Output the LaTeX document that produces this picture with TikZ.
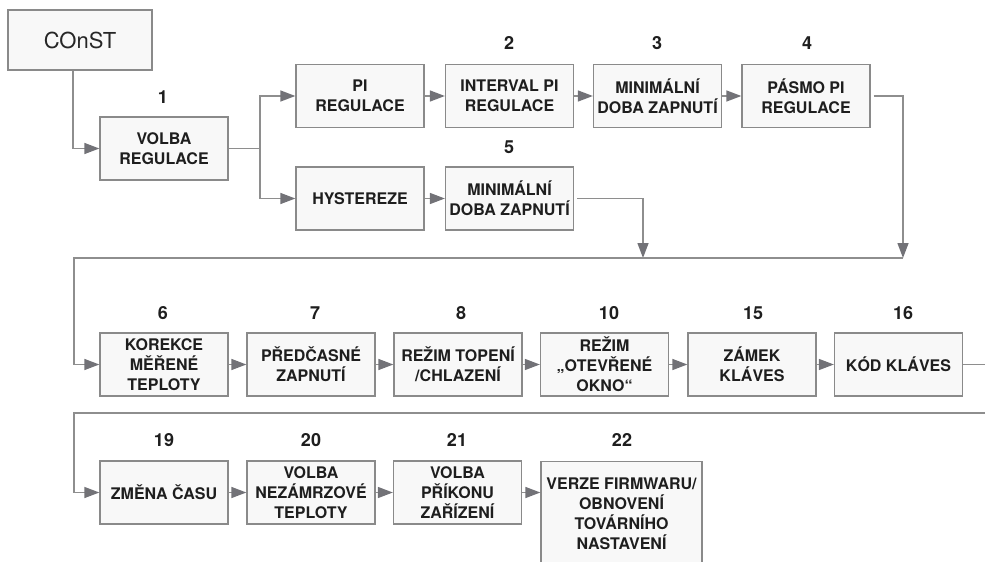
\documentclass[tikz,border=0pt]{standalone}
\usepackage{fontspec}
\setmainfont{TeX Gyre Heros}
\usetikzlibrary{arrows.meta}
\definecolor{linegray}{HTML}{8E8E8E}
\definecolor{headgray}{HTML}{727277}
\definecolor{boxborder}{HTML}{8A8A8A}
\definecolor{boxfill}{HTML}{F8F8F8}
\definecolor{txt}{HTML}{1E1E1E}
\tikzset{
  box/.style={draw=boxborder, fill=boxfill, line width=1.3pt, minimum width=128pt, minimum height=63pt,
    inner sep=2pt, align=center, text=txt, font=\fontsize{16}{20}\selectfont\bfseries},
  num/.style={text=txt, font=\fontsize{18}{20}\selectfont\bfseries, inner sep=0pt},
  conn/.style={draw=linegray, line width=1.4pt},
  arr/.style={conn, -{Triangle[length=15pt,width=11pt,fill=headgray,color=headgray]}},
}
\begin{document}
\begin{tikzpicture}[x=1pt,y=-1pt]
\useasboundingbox (0,0) rectangle (985,562);
\clip (0,0) rectangle (985,562);
% top part
\node[box, minimum width=144pt, minimum height=60pt, font=\fontsize{22}{24}\selectfont, text=black!85] (const) at (80,40) {COnST};
\node[box] (b1) at (164,148.5) {VOLBA\\REGULACE};
\node[num] (n1) at (163,97) {1};
\node[box] (pi) at (360,96) {PI\\REGULACE};
\node[box] (b2) at (509.5,96) {INTERVAL PI\\REGULACE};
\node[box] (b3) at (657.5,96) {MINIMÁLNÍ\\DOBA ZAPNUTÍ};
\node[box] (b4) at (806,96) {PÁSMO PI\\REGULACE};
\node[num] (n2) at (509,43) {2};
\node[num] (n3) at (657,43) {3};
\node[num] (n4) at (807,43) {4};
\node[box] (hy) at (360,198.5) {HYSTEREZE};
\node[box] (b5) at (509.5,198.5) {MINIMÁLNÍ\\DOBA ZAPNUTÍ};
\node[num] (n5) at (509,147) {5};
% row 2
\node[box] (b6) at (164,364.5) {KOREKCE\\MĚŘENÉ\\TEPLOTY};
\node[box] (b7) at (311,364.5) {PŘEDČASNÉ\\ZAPNUTÍ};
\node[box] (b8) at (458,364.5) {REŽIM TOPENÍ\\/CHLAZENÍ};
\node[box] (b10) at (604.5,364.5) {REŽIM\\„OTEVŘENÉ\\OKNO“};
\node[box] (b15) at (752,364.5) {ZÁMEK\\KLÁVES};
\node[box] (b16) at (898.5,364.5) {KÓD KLÁVES};
\node[num] (n6) at (163,313) {6};
\node[num] (n7) at (315,313) {7};
\node[num] (n8) at (461,313) {8};
\node[num] (n10) at (609,313) {10};
\node[num] (n15) at (753,313) {15};
\node[num] (n16) at (903,313) {16};
% row 3
\node[box] (b19) at (164,492.5) {ZMĚNA ČASU};
\node[box] (b20) at (311,492.5) {VOLBA\\NEZÁMRZOVÉ\\TEPLOTY};
\node[box] (b21) at (457.5,492.5) {VOLBA\\PŘÍKONU\\ZAŘÍZENÍ};
\node[box, minimum width=161pt, minimum height=104pt] (b22) at (621.5,513.5) {VERZE FIRMWARU/\\OBNOVENÍ\\TOVÁRNÍHO\\NASTAVENÍ};
\node[num] (n19) at (164,440) {19};
\node[num] (n20) at (311,440) {20};
\node[num] (n21) at (457,440) {21};
\node[num] (n22) at (622,440) {22};
% coordinates
\coordinate (split) at (260,148.5);
\coordinate (j1) at (903,258);
\coordinate (j2) at (643,258);
\coordinate (c1) at (74,258);
\coordinate (e1) at (985,364.5);
\coordinate (e2) at (985,413);
\coordinate (c2) at (74,413);
% connectors
\draw[arr] ([xshift=-7pt]const.south) |- (b1.west);
\draw[conn] (b1.east) -- (split);
\draw[arr] (split) |- (pi.west);
\draw[arr] (split) |- (hy.west);
\draw[arr] (pi) -- (b2);
\draw[arr] (b2) -- (b3);
\draw[arr] (b3) -- (b4);
\draw[arr] (hy) -- (b5);
\draw[arr] ([xshift=3pt]b4.east) -| (j1);
\draw[arr] ([xshift=3pt]b5.east) -| (j2);
\draw[arr] (j1) -- (c1) |- (b6.west);
\draw[arr] (b6) -- (b7);
\draw[arr] (b7) -- (b8);
\draw[arr] (b8) -- (b10);
\draw[arr] (b10) -- (b15);
\draw[arr] (b15) -- (b16);
\draw[conn] (b16.east) -- (e1);
\draw[arr] (e2) -- (c2) |- (b19.west);
\draw[arr] (b19) -- (b20);
\draw[arr] (b20) -- (b21);
\draw[arr] (b21.east) -- (b21.east -| b22.west);
\end{tikzpicture}
\end{document}
